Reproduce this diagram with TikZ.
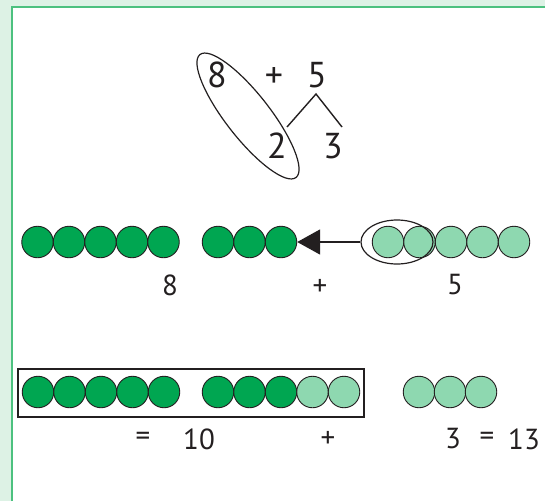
\documentclass[tikz,border=0pt]{standalone}
\usepackage{fontspec}
\setmainfont{PT Sans}
\usepackage{tikz}
\usetikzlibrary{arrows.meta,calc,shapes.geometric}
\usepackage{xcolor}
\definecolor{bgmint}{HTML}{DDF2E5}
\definecolor{framegreen}{HTML}{4CC17F}
\definecolor{beaddark}{HTML}{00A651}
\definecolor{beadlight}{HTML}{8ED8B0}
\definecolor{inkgray}{HTML}{231F20}

\begin{document}
\begin{tikzpicture}[x=1pt,y=-1pt,
  bead/.style={circle,draw=inkgray,line width=0.9pt,minimum size=31.5pt,inner sep=0pt},
  darkbead/.style={bead,fill=beaddark},
  lightbead/.style={bead,fill=beadlight},
  bignum/.style={text=inkgray,font=\fontsize{36}{40}\selectfont,inner sep=0pt},
  smallnum/.style={text=inkgray,font=\fontsize{29}{33}\selectfont,inner sep=0pt}]
  \useasboundingbox (0,0) rectangle (545,501);
  % page frame
  \fill[bgmint] (0,0) rectangle (545,501);
  \fill[white] (12,7) rectangle (545,501);
  \draw[framegreen,line width=2pt] (12,501) -- (12,7) -- (545,7);
  % 8 + 5, split 5 into 2 and 3
  \node[bignum] (top8) at (217,75) {8};
  \node[bignum] (topplus) at (274,78) {+};
  \node[bignum] (top5) at (317,75) {5};
  \node[bignum] (top2) at (277,146) {2};
  \node[bignum] (top3) at (333,146) {3};
  \coordinate (legpeak) at (316,94);
  \coordinate (legleft) at (287,127);
  \coordinate (legright) at (342,127);
  \draw[inkgray,line width=1.4pt] (legleft) -- (legpeak) -- (legright);
  \node[draw=inkgray,line width=1.2pt,ellipse,minimum width=156pt,minimum height=44pt,
    rotate=-52] (tenring) at (248,116) {};
  % beads: 8 + 5
  \foreach \x [count=\k] in {37.5,69,100.5,132,163.5,218,249.5,281}
    \node[darkbead] (m\k) at (\x,242) {};
  \foreach \x [count=\k] in {388,419.5,451,482.5,514}
    \node[lightbead] (ml\k) at (\x,242) {};
  \node[draw=inkgray,line width=1.2pt,ellipse,minimum width=72pt,minimum height=44pt]
    (pairring) at (397,242) {};
  \draw[inkgray,line width=1.8pt,-{Triangle[length=23pt,width=25pt]}] (pairring.west) -- (m8.east);
  \node[smallnum] (mid8) at (170,285) {8};
  \node[smallnum] (midplus) at (320,287) {+};
  \node[smallnum] (mid5) at (455,285) {5};
  % beads: 10 + 3
  \foreach \x [count=\k] in {38,69.5,101,132.5,164,218,249.5,281}
    \node[darkbead] (b\k) at (\x,392) {};
  \foreach \x [count=\k] in {312.5,344}
    \node[lightbead] (bl\k) at (\x,392) {};
  \foreach \x [count=\k] in {419,450,481}
    \node[lightbead] (br\k) at (\x,392) {};
  \draw[inkgray,line width=1.3pt] (18,369) rectangle (364,417);
  \node[smallnum] (boteq) at (143,439) {=};
  \node[smallnum] (bot10) at (199,439) {10};
  \node[smallnum] (botplus) at (328,439) {+};
  \node[smallnum] (bot3) at (453,439) {3};
  \node[smallnum] (boteqb) at (487,439) {=};
  \node[smallnum] (bot13) at (524,439) {13};
\end{tikzpicture}
\end{document}
